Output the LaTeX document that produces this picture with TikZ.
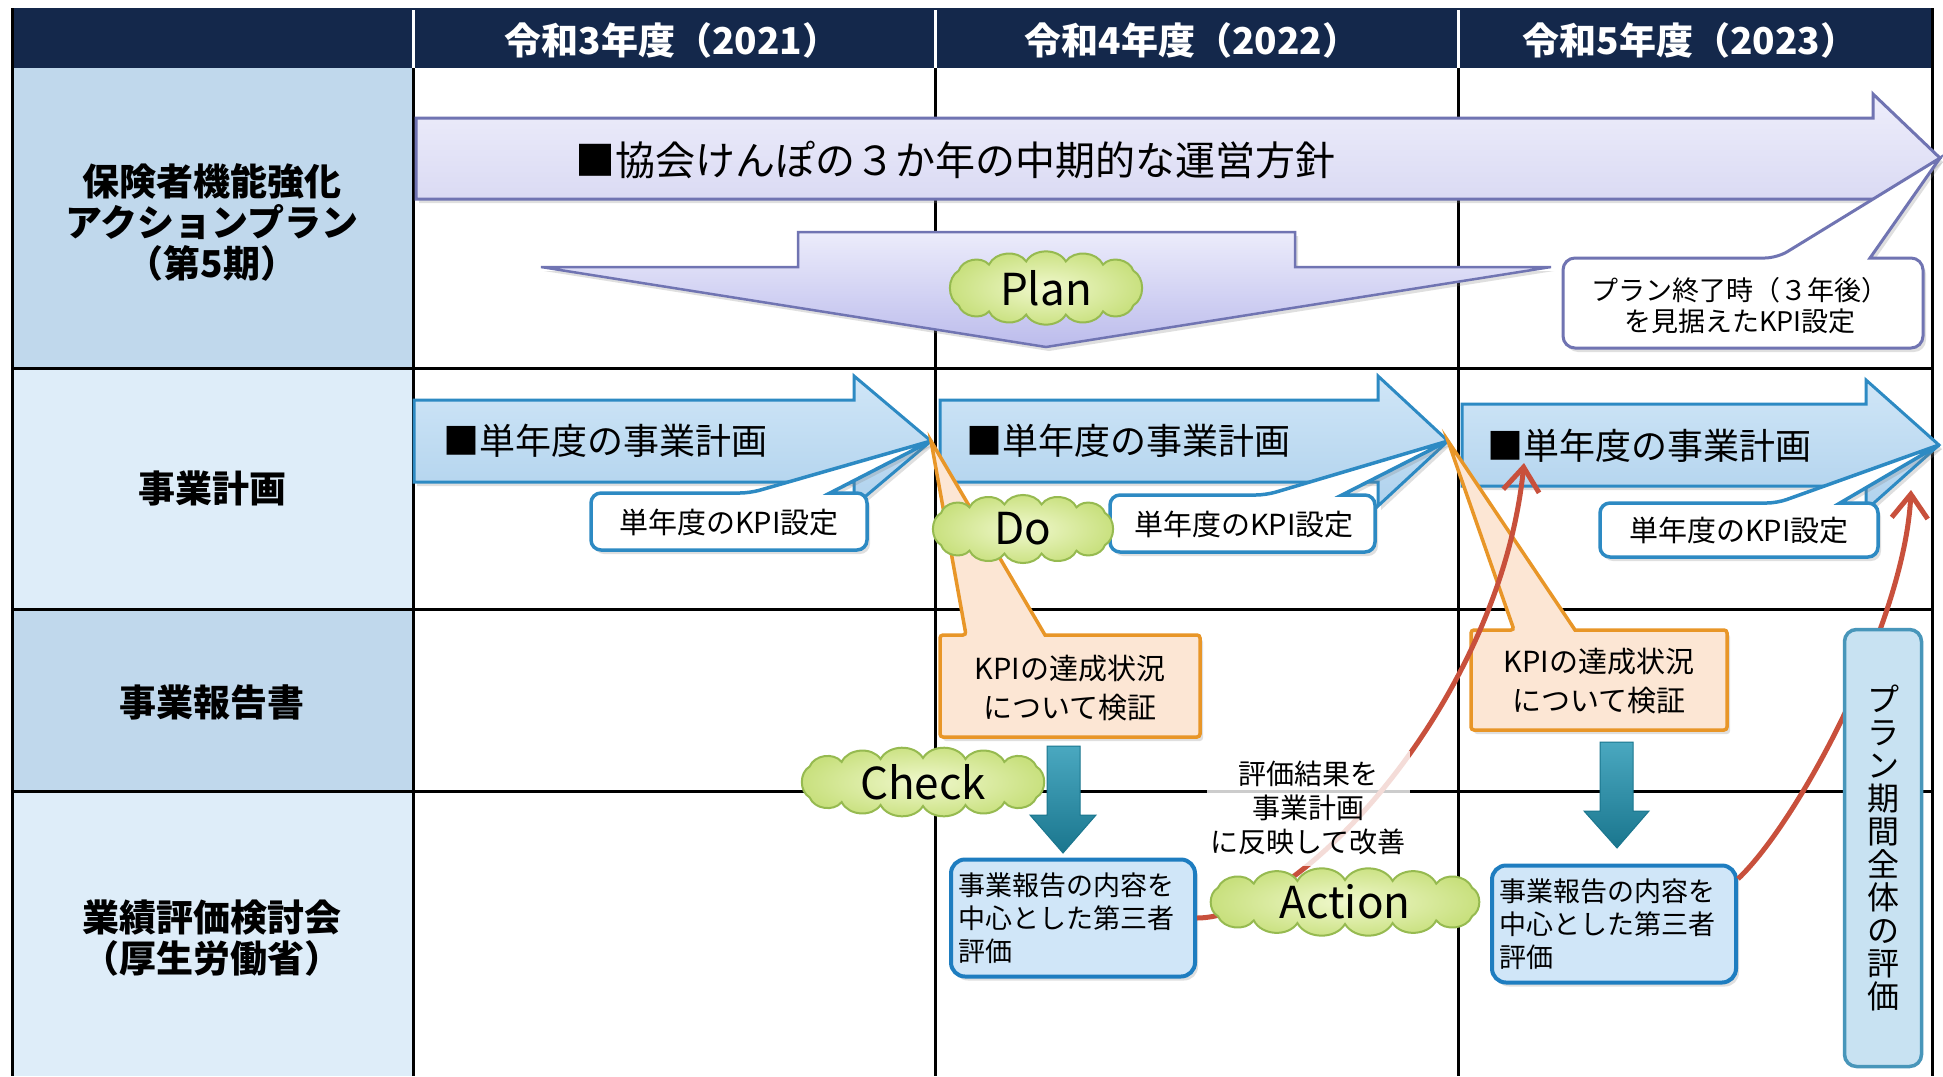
\documentclass[tikz,border=0pt]{standalone}
\usepackage{fontspec}
\setmainfont{Noto Sans CJK JP}
\usetikzlibrary{shadows,arrows.meta}
\definecolor{navy}{RGB}{20,40,75}
\definecolor{leftmid}{RGB}{192,216,236}
\definecolor{leftlight}{RGB}{222,237,249}
\definecolor{lavtop}{RGB}{238,238,251}
\definecolor{lavbot}{RGB}{214,214,242}
\definecolor{lavline}{RGB}{112,116,178}
\definecolor{plantop}{RGB}{236,236,251}
\definecolor{planbot}{RGB}{188,188,236}
\definecolor{bluetop}{RGB}{208,230,247}
\definecolor{bluebot}{RGB}{176,210,237}
\definecolor{blueline}{RGB}{45,138,195}
\definecolor{orfill}{RGB}{252,230,212}
\definecolor{orline}{RGB}{232,150,40}
\definecolor{cloudtop}{RGB}{240,248,205}
\definecolor{cloudbot}{RGB}{200,224,125}
\definecolor{cloudline}{RGB}{150,186,80}
\definecolor{tealtop}{RGB}{74,168,192}
\definecolor{tealbot}{RGB}{26,118,142}
\definecolor{boxfill}{RGB}{208,230,248}
\definecolor{boxline}{RGB}{30,125,192}
\definecolor{vboxfill}{RGB}{200,226,242}
\definecolor{vboxline}{RGB}{72,150,186}
\definecolor{redline}{RGB}{200,80,60}
% cloud outline: #1 cx, #2 cy, #3 a, #4 b, #5 puffs on top, #6 end angle
\newcommand{\mycloud}[6]{%
  \path[cloudsty] ({#1+#3*cos(#6)},{#2+#4*sin(#6)})
    to[bend right=60] ({#1+#3*cos(#6)},{#2-#4*sin(#6)})
    \foreach \k in {1,...,#5} { to[bend right=60] ({#1+#3*cos(#6+\k*(180-2*#6)/#5)},{#2-#4*sin(#6+\k*(180-2*#6)/#5)}) }
    to[bend right=60] ({#1-#3*cos(#6)},{#2+#4*sin(#6)})
    \foreach \k in {1,...,#5} { to[bend right=60] ({#1+#3*cos(180+#6+\k*(180-2*#6)/#5)},{#2-#4*sin(180+#6+\k*(180-2*#6)/#5)}) }
    -- cycle;}
\begin{document}
\begin{tikzpicture}[x=1pt,y=-1pt,
  gridline/.style={line width=3pt, black},
  hdr/.style={text=white, font=\bfseries\fontsize{37}{40}\selectfont},
  lefttxt/.style={font=\bfseries\fontsize{37}{41}\selectfont, align=center, text=black},
  shad/.style={drop shadow={shadow xshift=3pt, shadow yshift=-4pt, opacity=0.25}},
  bigarr/.style={draw=lavline, line width=3pt, top color=lavtop, bottom color=lavbot, shad},
  planarr/.style={draw=lavline, line width=2.5pt, top color=plantop, bottom color=planbot, shad},
  blarr/.style={draw=blueline, line width=3pt, top color=bluetop, bottom color=bluebot, shad},
  callpurple/.style={draw=lavline, line width=3pt, fill=white, shad},
  callblue/.style={draw=blueline, line width=3.5pt, fill=white, shad},
  callorange/.style={draw=orline, line width=3.5pt, fill=orfill, shad},
  tealarr/.style={draw=tealbot, line width=1pt, top color=tealtop, bottom color=tealbot},
  rbox/.style={draw=boxline, line width=4pt, fill=boxfill, rounded corners=14pt, minimum width=244pt, minimum height=117pt, text width=230pt, align=left, font=\fontsize{27}{33}\selectfont, inner sep=0pt, shad},
  vbox/.style={draw=vboxline, line width=3.5pt, fill=vboxfill, rounded corners=12pt, minimum width=77pt, minimum height=437pt, align=center, font=\fontsize{32}{33}\selectfont, inner sep=0pt},
  cloudsty/.style={draw=cloudline, line width=2pt, inner color=cloudtop, outer color=cloudbot},
  cloudtxt/.style={font=\fontsize{44}{46}\selectfont},
  redarr/.style={draw=redline, line width=5pt, -{Straight Barb[length=24pt,width=36pt]}},
  arrtxt/.style={anchor=west, font=\fontsize{36}{40}\selectfont},
  kpitxt/.style={font=\fontsize{29}{32}\selectfont},
  ortxt/.style={align=center, font=\fontsize{29}{39}\selectfont},
]
\useasboundingbox (0,0) rectangle (1943,1076);
\fill[white] (0,0) rectangle (1943,1076);
% left column cells
\fill[leftmid] (12,68) rectangle (413,368);
\fill[leftlight] (12,368) rectangle (413,609);
\fill[leftmid] (12,609) rectangle (413,791);
\fill[leftlight] (12,791) rectangle (413,1076);
% header
\fill[navy] (12,8) rectangle (1932,68);
\draw[white, line width=3pt] (413,10) -- (413,68) (935,10) -- (935,68) (1458,10) -- (1458,68);
% grid
\draw[gridline] (12,8) -- (12,1076) (413,68) -- (413,1076) (935,68) -- (935,1076) (1458,68) -- (1458,1076) (1932,8) -- (1932,1076);
\draw[gridline] (12,368) -- (1932,368) (12,609) -- (1932,609) (12,791) -- (1932,791);
% header texts
\node[hdr] (h1) at (672,40) {令和3年度（2021）};
\node[hdr] (h2) at (1192,40) {令和4年度（2022）};
\node[hdr] (h3) at (1690,40) {令和5年度（2023）};
% left labels
\node[lefttxt] (l1) at (212,222) {保険者機能強化\\アクションプラン\\（第5期）};
\node[lefttxt] (l2) at (212,488) {事業計画};
\node[lefttxt] (l3) at (212,702) {事業報告書};
\node[lefttxt] (l4) at (212,938) {業績評価検討会\\（厚生労働省）};
% big arrow
\path[bigarr] (416,118) -- (1873,118) -- (1873,94) -- (1940,158) -- (1873,222) -- (1873,199) -- (416,199) -- cycle;
\node[font=\fontsize{40}{44}\selectfont] (bigtxt) at (955,160) {■協会けんぽの３か年の中期的な運営方針};
% plan shape
\path[planarr] (798,232) -- (1295,232) -- (1295,267) -- (1551,267) -- (1046,347) -- (541,267) -- (798,267) -- cycle;
% purple callout
\path[callpurple] (1777,258) -- (1940,158) -- (1870,258) [rounded corners=12pt] -- (1923,258) -- (1923,348) -- (1563,348) -- (1563,258) -- cycle;
\node[align=center, font=\fontsize{27}{31}\selectfont] (endtxt) at (1740,306) {プラン終了時（３年後）\\を見据えたKPI設定};
% row 2 arrows
\path[blarr] (414,400) -- (854,400) -- (854,376) -- (931,441) -- (854,506) -- (854,482) -- (414,482) -- cycle;
\path[blarr] (940,400) -- (1378,400) -- (1378,376) -- (1448,441) -- (1378,506) -- (1378,482) -- (940,482) -- cycle;
\path[blarr] (1462,404) -- (1866,404) -- (1866,380) -- (1939,445) -- (1866,510) -- (1866,486) -- (1462,486) -- cycle;
\node[arrtxt] (a1) at (440,441) {■単年度の事業計画};
\node[arrtxt] (a2) at (963,441) {■単年度の事業計画};
\node[arrtxt] (a3) at (1484,446) {■単年度の事業計画};
% KPI callouts
\path[callblue] (750,493) -- (931,441) -- (830,493) [rounded corners=10pt] -- (867,493) -- (867,550) -- (591,550) -- (591,493) -- cycle;
\node[kpitxt] (k1) at (729,522) {単年度のKPI設定};
\path[callblue] (1266,495) -- (1448,441) -- (1342,495) [rounded corners=10pt] -- (1375,495) -- (1375,552) -- (1110,552) -- (1110,495) -- cycle;
\node[kpitxt] (k2) at (1244,524) {単年度のKPI設定};
\path[callblue] (1777,503) -- (1939,445) -- (1840,503) [rounded corners=10pt] -- (1878,503) -- (1878,557) -- (1600,557) -- (1600,503) -- cycle;
\node[kpitxt] (k3) at (1739,530) {単年度のKPI設定};
% orange callouts
\path[callorange] (966,635) -- (931,441) -- (1045,635) [rounded corners=3pt] -- (1200,635) -- (1200,737) -- (940,737) -- (940,635) -- cycle;
\node[ortxt] (o1) at (1070,688) {KPIの達成状況\\について検証};
\path[callorange] (1514,630) -- (1448,441) -- (1575,630) [rounded corners=3pt] -- (1727,630) -- (1727,730) -- (1471,730) -- (1471,630) -- cycle;
\node[ortxt] (o2) at (1599,681) {KPIの達成状況\\について検証};
% teal arrows
\path[tealarr] (1047,746) -- (1080,746) -- (1080,815) -- (1096,815) -- (1063,853) -- (1030,815) -- (1047,815) -- cycle;
\path[tealarr] (1600,742) -- (1633,742) -- (1633,811) -- (1649,811) -- (1617,848) -- (1584,811) -- (1600,811) -- cycle;
% evaluation boxes
\node[rbox] (bxA) at (1073,918) {事業報告の内容を\\中心とした第三者\\評価};
\node[rbox] (bxB) at (1614,924) {事業報告の内容を\\中心とした第三者\\評価};
% red curves
\coordinate (r1end) at (1524,463);
\coordinate (r2end) at (1911,490);
\draw[redarr] (bxA.east) .. controls (1300,918) and (1500,700) .. (r1end);
\draw[redarr] (bxB.20) .. controls (1800,820) and (1905,620) .. (r2end);
% vertical box
\node[vbox] (vb) at (1883,848) {プ\\ラ\\ン\\期\\間\\全\\体\\の\\評\\価};
% label
\node[fill=white, fill opacity=0.8, text opacity=1, align=center, font=\fontsize{28}{34}\selectfont, minimum width=203pt, minimum height=115pt, inner sep=0pt] (evl) at (1308,808) {評価結果を\\事業計画\\に反映して改善};
% clouds
\mycloud{1046}{288}{114}{27}{5}{40}
\node[cloudtxt] (plan) at (1046,288) {Plan};
\mycloud{1023}{529}{107}{25}{5}{40}
\node[cloudtxt] (do) at (1023,529) {Do};
\mycloud{923}{782}{148}{24}{6}{40}
\node[cloudtxt] (check) at (923,782) {Check};
\mycloud{1345}{902}{166}{22}{6}{40}
\node[cloudtxt] (act) at (1345,902) {Action};
\end{tikzpicture}
\end{document}
